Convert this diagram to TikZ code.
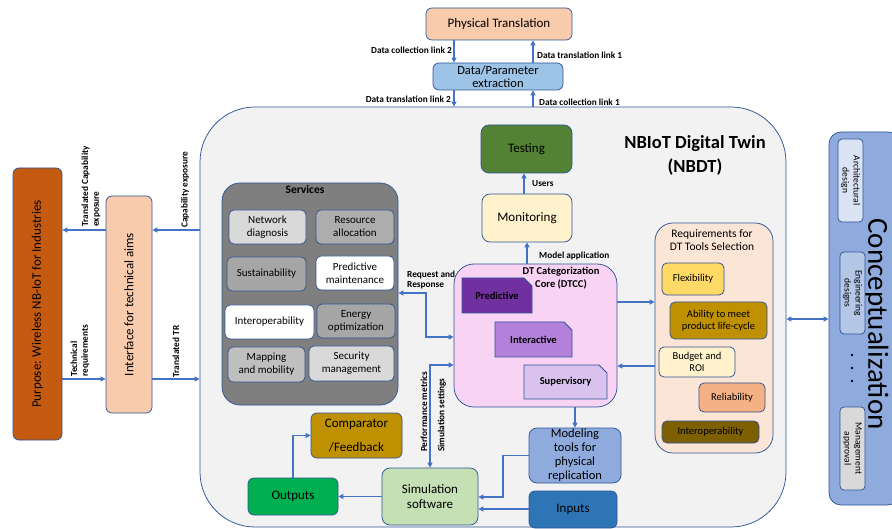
\documentclass[tikz,border=0pt]{standalone}
\usepackage{fontspec}
\setmainfont{Carlito}
\usetikzlibrary{arrows.meta,shapes.misc}
\definecolor{edgeblue}{HTML}{2F5597}
\definecolor{arrowblue}{HTML}{4472C4}
\definecolor{physfill}{HTML}{F8CBAD}
\definecolor{dpefill}{HTML}{9DC3E6}
\definecolor{nbdtfill}{HTML}{F2F2F2}
\definecolor{purposefill}{HTML}{C55A11}
\definecolor{svcgray}{HTML}{7F7F7F}
\definecolor{graya}{HTML}{D9D9D9}
\definecolor{grayb}{HTML}{ADADAD}
\definecolor{grayc}{HTML}{A6A6A6}
\definecolor{grayd}{HTML}{BFBFBF}
\definecolor{testfill}{HTML}{548235}
\definecolor{monfill}{HTML}{FFF2CC}
\definecolor{dtccfill}{HTML}{F9D3F3}
\definecolor{predfill}{HTML}{7030A0}
\definecolor{interfill}{HTML}{B381D9}
\definecolor{supfill}{HTML}{D9C3EE}
\definecolor{reqfill}{HTML}{FBE5D6}
\definecolor{flexfill}{HTML}{FFD966}
\definecolor{abilfill}{HTML}{BF9000}
\definecolor{relfill}{HTML}{F4B183}
\definecolor{interopfill}{HTML}{7F6000}
\definecolor{concfill}{HTML}{8FAADC}
\definecolor{archfill}{HTML}{DAE3F3}
\definecolor{engfill}{HTML}{B4C7E7}
\definecolor{outfill}{HTML}{00B050}
\definecolor{simfill}{HTML}{C5E0B4}
\definecolor{inpfill}{HTML}{2E75B6}
\begin{document}
\begin{tikzpicture}[x=1pt, y=-1pt, >={Triangle[length=5pt, width=5pt]},
    box/.style={draw=edgeblue, line width=0.75pt, rounded corners=6pt, align=center, inner sep=1pt, font=\fontsize{13}{15}\selectfont},
    svc/.style={box, rounded corners=5pt, font=\fontsize{11}{13}\selectfont},
    reqitem/.style={box, rounded corners=5pt, font=\fontsize{10.5}{12.5}\selectfont},
    core/.style={draw=edgeblue, line width=0.75pt, chamfered rectangle, chamfered rectangle corners=north east, chamfered rectangle xsep=4pt, chamfered rectangle ysep=4pt, font=\fontsize{10.5}{12.5}\selectfont\bfseries},
    concitem/.style={box, rotate=-90, rounded corners=4pt, inner sep=0pt, font=\fontsize{9.5}{11}\selectfont},
    lbl/.style={font=\fontsize{9.3}{10.8}\selectfont\bfseries, inner sep=0pt, align=left},
    link/.style={draw=arrowblue, line width=1.1pt}]
    \useasboundingbox (0,0) rectangle (892,529);

    \node[draw=edgeblue, line width=0.75pt, fill=nbdtfill, rounded corners=55pt, minimum width=586pt, minimum height=420pt] (nbdt) at (493,317) {};
    \node[font=\fontsize{18.5}{24}\selectfont\bfseries, align=center] (nbdttitle) at (695,155) {NBIoT Digital Twin\\(NBDT)};

    \node[box, fill=physfill, minimum width=146pt, minimum height=32pt] (phys) at (499,24) {Physical Translation};
    \node[box, fill=dpefill, minimum width=130pt, minimum height=27pt, inner sep=0pt, font=\fontsize{12.5}{13}\selectfont] (dpe) at (498,76.5) {Data/Parameter\\extraction};

    \node[box, fill=purposefill, minimum width=49pt, minimum height=272pt] (purpose) at (37.5,304) {\rotatebox{90}{Purpose: Wireless NB-IoT for Industries}};
    \node[box, fill=physfill, minimum width=46pt, minimum height=217pt] (iface) at (129,304.5) {\rotatebox{90}{Interface for technical aims}};

    \node[box, fill=svcgray, rounded corners=18pt, minimum width=176pt, minimum height=222pt] (services) at (310,294) {};
    \node[font=\fontsize{11.5}{13}\selectfont\bfseries] (svctitle) at (305,190) {Services};
    \node[svc, fill=graya, minimum width=77pt, minimum height=34pt] (netdiag) at (267.5,227) {Network\\diagnosis};
    \node[svc, fill=grayb, minimum width=78pt, minimum height=34pt] (resalloc) at (355,227) {Resource\\allocation};
    \node[svc, fill=grayc, minimum width=79pt, minimum height=34pt] (sustain) at (266.5,274) {Sustainability};
    \node[svc, fill=white, minimum width=78pt, minimum height=34pt] (predmaint) at (355,273) {Predictive\\maintenance};
    \node[svc, fill=white, minimum width=89pt, minimum height=34pt] (interop) at (269.5,322) {Interoperability};
    \node[svc, fill=grayc, minimum width=78pt, minimum height=34pt] (energy) at (356,321) {Energy\\optimization};
    \node[svc, fill=grayd, minimum width=77pt, minimum height=35pt] (mapping) at (266.5,364.5) {Mapping\\and mobility};
    \node[svc, fill=graya, minimum width=85pt, minimum height=35pt] (security) at (351.5,363.5) {Security\\management};

    \node[box, fill=testfill, rounded corners=8pt, minimum width=91pt, minimum height=48pt] (testing) at (526.5,149) {Testing};
    \node[box, fill=monfill, rounded corners=8pt, minimum width=90pt, minimum height=48pt] (monitor) at (527,218) {Monitoring};

    \node[box, fill=dtccfill, rounded corners=20pt, minimum width=163pt, minimum height=143pt] (dtcc) at (535.5,335.5) {};
    \node[font=\fontsize{10.5}{13}\selectfont\bfseries, align=center] (dtcctitle) at (561,278) {DT Categorization\\Core (DTCC)};
    \node[core, fill=predfill, minimum width=70pt, minimum height=35pt] (pred) at (497,295.5) {Predictive};
    \node[core, fill=interfill, minimum width=77pt, minimum height=35pt] (inter) at (533.5,339.5) {Interactive};
    \node[core, fill=supfill, minimum width=83pt, minimum height=34pt] (super) at (565.5,382) {Supervisory};

    \node[box, fill=reqfill, rounded corners=18pt, minimum width=118pt, minimum height=230pt] (req) at (714,338) {};
    \node[font=\fontsize{11.5}{13.5}\selectfont, align=center] (reqtitle) at (712,240) {Requirements for\\DT Tools Selection};
    \node[reqitem, fill=flexfill, minimum width=62pt, minimum height=32pt] (flex) at (693,279) {Flexibility};
    \node[reqitem, fill=abilfill, minimum width=97pt, minimum height=37pt] (ability) at (718.5,320.5) {Ability to meet\\product life-cycle};
    \node[reqitem, fill=monfill, minimum width=76pt, minimum height=30pt] (budget) at (697,362) {Budget and\\ROI};
    \node[reqitem, fill=relfill, minimum width=66pt, minimum height=29pt] (reliab) at (732,397.5) {Reliability};
    \node[reqitem, fill=interopfill, minimum width=97pt, minimum height=22pt] (reqinterop) at (710.5,432) {Interoperability};

    \node[box, fill=concfill, rounded corners=12pt, minimum width=71pt, minimum height=373pt] (concept) at (864.5,318.5) {};
    \node[rotate=-90, inner sep=0pt, font=\fontsize{29}{31}\selectfont] (concepttext) at (876,324) {Conceptualization};
    \node[concitem, fill=archfill, minimum width=83pt, minimum height=25pt] (arch) at (850.5,180.5) {Architectural\\design};
    \node[concitem, fill=engfill, minimum width=82pt, minimum height=25pt] (eng) at (852.5,293) {Engineering\\designs};
    \node[concitem, fill=graya, minimum width=83pt, minimum height=25pt] (mgmt) at (852.5,448.5) {Management\\approval};
    \foreach \y in {355,368,381}
        \fill (852,\y) circle (1.4pt);

    \node[box, fill=abilfill, minimum width=91pt, minimum height=45pt, font=\fontsize{13}{24}\selectfont] (comp) at (356.5,435.5) {Comparator\\/Feedback};
    \node[box, fill=outfill, minimum width=90pt, minimum height=37pt] (outputs) at (293,496.5) {Outputs};
    \node[box, fill=simfill, rounded corners=8pt, minimum width=96pt, minimum height=57pt] (sim) at (430,496.5) {Simulation\\software};
    \node[box, fill=concfill, rounded corners=8pt, minimum width=92pt, minimum height=55pt, inner sep=0pt, font=\fontsize{12.5}{14}\selectfont] (model) at (575,455.5) {Modeling\\tools for\\physical\\replication};
    \node[box, fill=inpfill, minimum width=88pt, minimum height=37pt] (inputs) at (573,509.5) {Inputs};

    \draw[link, ->] (phys.south -| 454,0) -- (dpe.north -| 454,0);
    \draw[link, ->] (dpe.north -| 533,0) -- (phys.south -| 533,0);
    \draw[link, ->] (dpe.south -| 454,0) -- (nbdt.north -| 454,0);
    \draw[link, ->] (nbdt.north -| 533,0) -- (dpe.south -| 533,0);
    \node[lbl, anchor=east] (dcl2) at (452,50) {Data collection link 2};
    \node[lbl, anchor=west] (dtl1) at (537,55) {Data translation link 1};
    \node[lbl, anchor=east] (dtl2) at (451,99) {Data translation link 2};
    \node[lbl, anchor=west] (dcl1) at (539,102) {Data collection link 1};

    \draw[link, ->] (nbdt.west |- 0,230) -- (iface.east |- 0,230);
    \draw[link, ->] (iface.west |- 0,230) -- (purpose.east |- 0,230);
    \draw[link, ->] (purpose.east |- 0,379) -- (iface.west |- 0,379);
    \draw[link, ->] (iface.east |- 0,379) -- (nbdt.west |- 0,379);
    \node[lbl, rotate=90, anchor=west] (tcexp) at (91,227) {Translated Capability\\exposure};
    \node[lbl, rotate=90, anchor=west] (capexp) at (185,228) {Capability exposure};
    \node[lbl, rotate=90, anchor=west] (techreq) at (80,377) {Technical\\requirements};
    \node[lbl, rotate=90, anchor=west] (transtr) at (176,378) {Translated TR};

    \draw[link, ->] (monitor.north -| 524,0) -- (testing.south -| 524,0);
    \draw[link, ->] (dtcc.north -| 527,0) -- (monitor.south -| 527,0);
    \node[lbl, anchor=west] (users) at (532,184) {Users};
    \node[lbl, anchor=west] (modelapp) at (539,256) {Model application};

    \draw[link, <->] (services.east |- 0,293) -- (426,293) |- (dtcc.west |- 0,337);
    \node[lbl, anchor=west] (reqresp) at (407,280) {Request and\\Response};
    \draw[link, <->] (sim.north -| 430,0) |- (dtcc.west |- 0,365);
    \node[lbl, rotate=90, anchor=west] (perfmet) at (424,452) {Performance metrics};
    \node[lbl, rotate=90, anchor=west] (simset) at (442,452) {Simulation settings};

    \draw[link, ->] (dtcc.east |- 0,302) -- (req.west |- 0,302);
    \draw[link, ->] (req.west |- 0,366) -- (dtcc.east |- 0,366);
    \draw[link, <->] (nbdt.east |- 0,319) -- (concept.west |- 0,319);

    \draw[link, ->] (dtcc.south -| model.north) -- (model.north);
    \draw[link, ->] (sim.west) -- (outputs.east);
    \draw[link, ->] (outputs.north) |- (comp.west);
    \draw[link, ->] (model.west) -- (503,455.5) |- (sim.east |- 0,497);
    \draw[link, ->] (inputs.west |- 0,509) -- (sim.east |- 0,509);
\end{tikzpicture}
\end{document}
